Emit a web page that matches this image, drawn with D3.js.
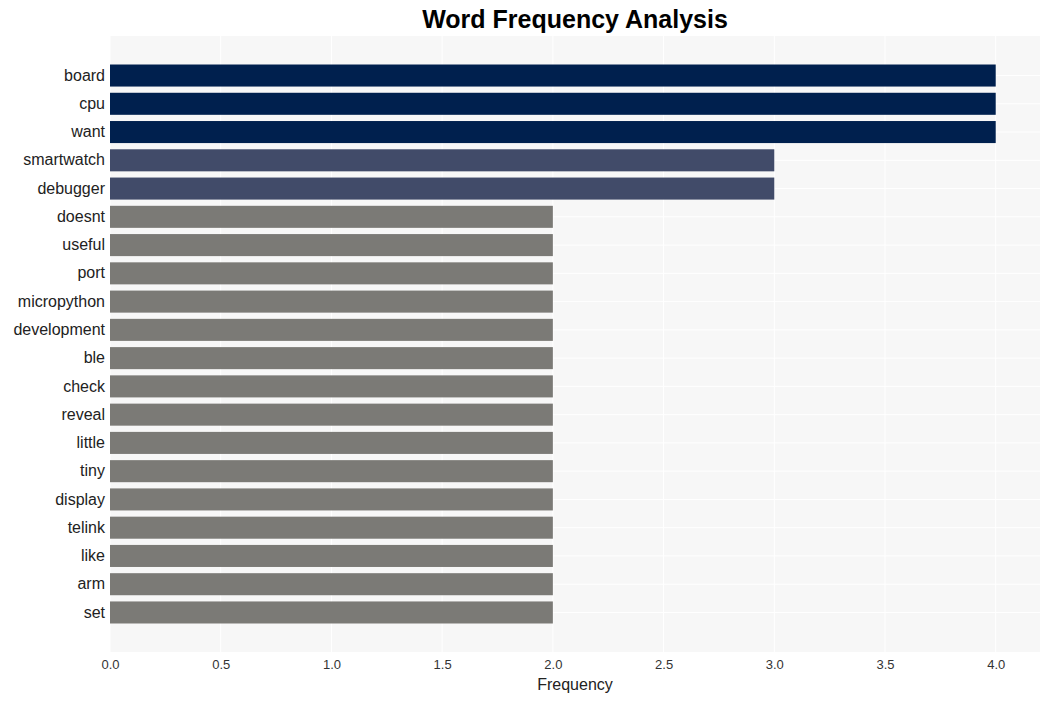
<!DOCTYPE html>
<html><head><meta charset="utf-8">
<script src="https://cdn.jsdelivr.net/npm/d3@7"></script>
<style>body{margin:0;background:#fff;} svg{display:block;}</style>
</head><body>
<svg id="c" width="1050" height="701"></svg>
<script>
const words = ["board","cpu","want","smartwatch","debugger","doesnt","useful","port","micropython","development","ble","check","reveal","little","tiny","display","telink","like","arm","set"];
const freqs = [4,4,4,3,3,2,2,2,2,2,2,2,2,2,2,2,2,2,2,2];
const xTicks = [0,0.5,1,1.5,2,2.5,3,3.5,4];
const colorByValue = {4:"#00204e", 3:"#414b69", 2:"#7b7a76"};

const svg = d3.select("#c");
const L=110, R=1040, T=36, B=652;
const x = d3.scaleLinear().domain([0,4.2]).range([L,R]);
const y = d3.scaleBand().domain(words).range([61.4,626.6]).paddingInner(0.22).paddingOuter(0.11);
const FONT = "Liberation Sans, Arial, Helvetica, sans-serif";

svg.append("rect").attr("x",L).attr("y",T).attr("width",R-L).attr("height",B-T).attr("fill","#f7f7f7");
svg.append("g").selectAll("line").data(xTicks).join("line")
 .attr("x1",d=>x(d)).attr("x2",d=>x(d)).attr("y1",T).attr("y2",B)
 .attr("stroke","#ffffff").attr("stroke-width",1);
svg.append("g").selectAll("line").data(words).join("line")
 .attr("x1",L).attr("x2",R).attr("y1",d=>y(d)+y.bandwidth()/2).attr("y2",d=>y(d)+y.bandwidth()/2)
 .attr("stroke","#ffffff").attr("stroke-width",1);

svg.append("g").selectAll("rect").data(words).join("rect")
 .attr("x",x(0)).attr("y",d=>y(d)).attr("height",y.bandwidth())
 .attr("width",(d,i)=>x(freqs[i])-x(0)).attr("fill",(d,i)=>colorByValue[freqs[i]]);

const xa = svg.append("g").attr("transform",`translate(0,${B})`)
 .call(d3.axisBottom(x).tickValues(xTicks).tickFormat(d3.format(".1f")).tickSize(0).tickPadding(8));
xa.select(".domain").remove();
xa.selectAll("text").attr("font-family",FONT).attr("font-size",13).attr("fill","#333");

const ya = svg.append("g").attr("transform",`translate(${L},0)`)
 .call(d3.axisLeft(y).tickSize(0).tickPadding(5));
ya.select(".domain").remove();
ya.selectAll("text").attr("font-family",FONT).attr("font-size",16).attr("fill","#222");

svg.append("text").attr("x",(L+R)/2).attr("y",689.5).attr("text-anchor","middle")
 .attr("font-family",FONT).attr("font-size",16).attr("fill","#222").text("Frequency");
svg.append("text").attr("x",575).attr("y",28).attr("text-anchor","middle")
 .attr("font-family",FONT).attr("font-size",25).attr("font-weight","bold").attr("fill","#000").text("Word Frequency Analysis");
</script>
</body></html>
